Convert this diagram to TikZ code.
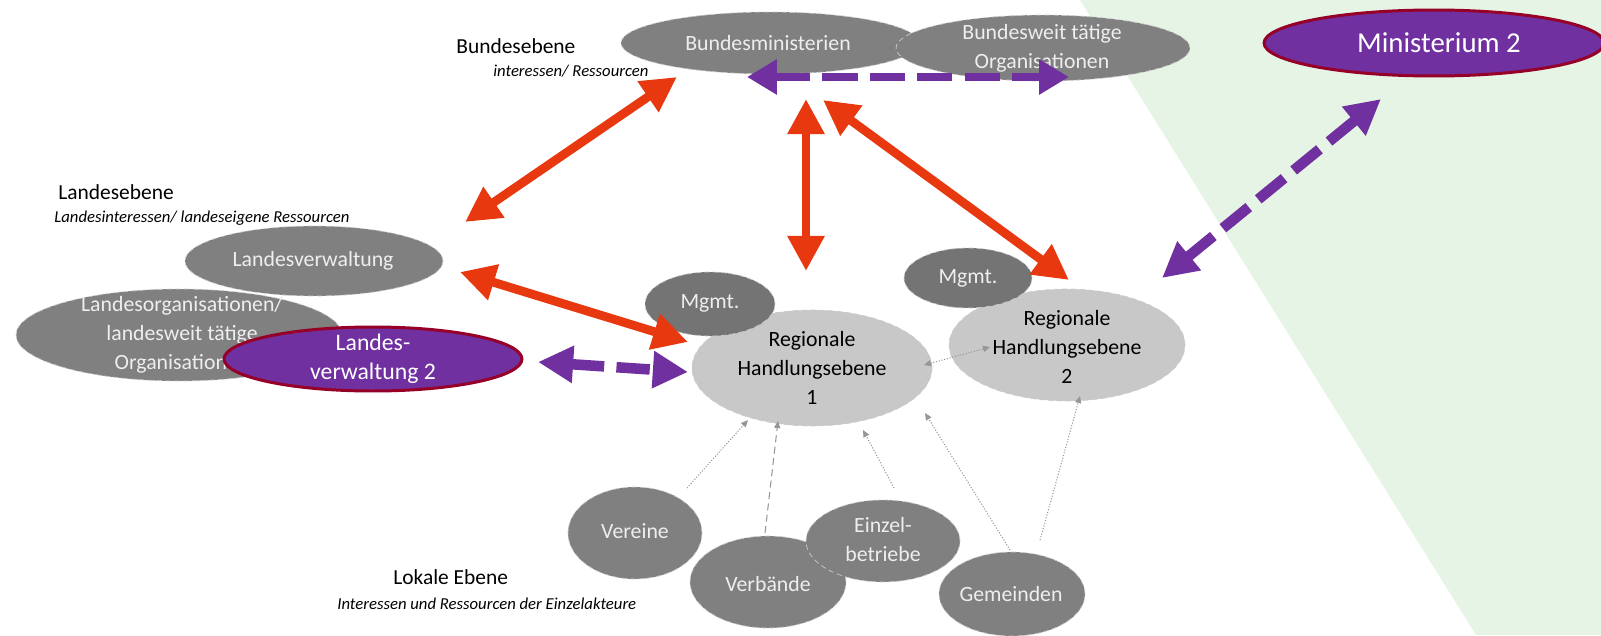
\documentclass[tikz,border=0pt]{standalone}
\usepackage{fontspec}
\setmainfont{Carlito}
\usetikzlibrary{arrows.meta,shapes.geometric}
\definecolor{grayfill}{RGB}{128,128,128}
\definecolor{mgmtfill}{RGB}{116,116,116}
\definecolor{regfill}{RGB}{200,200,200}
\definecolor{purp}{RGB}{112,48,160}
\definecolor{bordred}{RGB}{150,0,40}
\definecolor{redarr}{RGB}{232,56,15}
\definecolor{greenbg}{RGB}{230,244,230}
\definecolor{nodetxt}{RGB}{238,238,238}
\definecolor{thinarr}{RGB}{150,150,150}
\begin{document}
\begin{tikzpicture}[x=0.02cm,y=-0.02cm,
  ell/.style={ellipse, inner sep=0pt, draw=gray!40, densely dashed, line width=0.4pt},
  grayell/.style={ell, fill=grayfill},
  mgmtell/.style={ell, fill=mgmtfill},
  regell/.style={ell, fill=regfill},
  purpell/.style={ellipse, inner sep=0pt, fill=purp, draw=bordred, line width=1.7pt},
  gtxt/.style={font=\fontsize{12.4}{16.5}\selectfont, text=nodetxt, align=center, inner sep=0pt},
  btxt/.style={font=\fontsize{12.4}{16.5}\selectfont, text=black, align=center, inner sep=0pt},
  ptxt/.style={font=\fontsize{13.5}{16.5}\selectfont, text=white, align=center, inner sep=0pt},
  lbl/.style={font=\fontsize{12.2}{14}\selectfont, text=black, anchor=west, inner sep=0pt},
  ilbl/.style={font=\fontsize{9.5}{11}\selectfont\itshape, text=black, anchor=west, inner sep=0pt},
  redarrow/.style={draw=redarr, line width=5pt, {Triangle[length=20pt,width=20pt]}-{Triangle[length=20pt,width=20pt]}},
  purparrow/.style={draw=purp, line width=5pt, dash pattern=on 20pt off 7pt, {Triangle[length=17pt,width=19pt]}-{Triangle[length=17pt,width=19pt]}},
  purparrowb/.style={draw=purp, line width=6pt, dash pattern=on 19pt off 7pt, {Triangle[length=20pt,width=20pt]}-{Triangle[length=20pt,width=20pt]}},
  thinarrow/.style={draw=thinarr, line width=0.6pt, densely dotted, -{Triangle[length=4pt,width=3.5pt]}},
  thinarrowd/.style={draw=thinarr, line width=0.6pt, dash pattern=on 4pt off 2.5pt, -{Triangle[length=4pt,width=3.5pt]}},
  thinarrowb/.style={draw=thinarr, line width=0.6pt, densely dotted, {Triangle[length=4pt,width=3.5pt]}-{Triangle[length=4pt,width=3.5pt]}}
]
\useasboundingbox (0,0) rectangle (1601,635);
% background
\fill[greenbg] (1080,0) -- (1601,0) -- (1601,635) -- (1476,635) -- cycle;

% Bundesebene
\node[grayell, minimum width=5.96cm, minimum height=1.24cm] (bm) at (770,43) {};
\node[gtxt] (bmt) at (768,43) {Bundesministerien};
\node[grayell, minimum width=5.88cm, minimum height=1.32cm] (bw) at (1043,48) {};
\node[gtxt] (bwt) at (1042,48) {Bundesweit tätige\\Organisationen};
\node[purpell, minimum width=6.8cm, minimum height=1.32cm] (min2) at (1434,43) {};
\node[font=\fontsize{16.4}{18}\selectfont, text=white, inner sep=0pt] (min2t) at (1439,43) {Ministerium 2};

% Landesebene
\node[grayell, minimum width=5.16cm, minimum height=1.40cm] (lv) at (314,261) {};
\node[gtxt] (lvt) at (313,261) {Landesverwaltung};
\node[grayell, minimum width=6.52cm, minimum height=1.84cm] (lo) at (179,335) {};
\node[gtxt] (lot) at (182,335) {Landesorganisationen/\\landesweit tätige\\Organisationen};
\node[purpell, minimum width=5.96cm, minimum height=1.28cm] (lv2) at (373,359) {};
\node[ptxt] (lv2t) at (373,359) {Landes-\\verwaltung 2};

% Regionale Ebene
\node[regell, minimum width=4.8cm, minimum height=2.32cm] (r1) at (812,368) {};
\node[btxt] (r1t) at (812,368) {Regionale\\Handlungsebene\\1};
\node[regell, minimum width=4.72cm, minimum height=2.24cm] (r2) at (1067,345) {};
\node[btxt] (r2t) at (1067,347) {Regionale\\Handlungsebene\\2};
\node[mgmtell, minimum width=2.6cm, minimum height=1.28cm] (mg1) at (710,304) {};
\node[gtxt] (mg1t) at (710,303) {Mgmt.};
\node[mgmtell, minimum width=2.56cm, minimum height=1.2cm] (mg2) at (968,278) {};
\node[gtxt] (mg2t) at (968,278) {Mgmt.};

% Lokale Ebene
\node[grayell, minimum width=2.68cm, minimum height=1.84cm] (ver) at (635,533) {};
\node[gtxt] (vert) at (635,531) {Vereine};
\node[grayell, minimum width=3.12cm, minimum height=1.84cm] (vbd) at (768,582) {};
\node[gtxt] (vbdt) at (768,584) {Verbände};
\node[grayell, minimum width=3.08cm, minimum height=1.64cm] (ein) at (883,541) {};
\node[gtxt] (eint) at (883,540) {Einzel-\\betriebe};
\node[grayell, minimum width=2.92cm, minimum height=1.68cm] (gem) at (1012,594) {};
\node[gtxt] (gemt) at (1011,594) {Gemeinden};

% level labels
\node[lbl] (lb1) at (456,46) {Bundesebene};
\node[ilbl] (lb1i) at (493,71) {interessen/ Ressourcen};
\node[lbl] (lb2) at (58,192) {Landesebene};
\node[ilbl] (lb2i) at (54,218) {Landesinteressen/ landeseigene Ressourcen};
\node[lbl] (lb3) at (393,577) {Lokale Ebene};
\node[ilbl] (lb3i) at (337,604) {Interessen und Ressourcen der Einzelakteure};

% arrow end points
\coordinate (ra1a) at (465,222); \coordinate (ra1b) at (677,77);
\coordinate (ra2a) at (460,272); \coordinate (ra2b) at (688,342);
\coordinate (ra3a) at (806,99);  \coordinate (ra3b) at (806,271);
\coordinate (ra4a) at (823,100); \coordinate (ra4b) at (1069,280);
\coordinate (pa1a) at (747,77);  \coordinate (pa1b) at (1069,77);
\coordinate (pa2a) at (538,362); \coordinate (pa2b) at (688,372);
\coordinate (pa3a) at (1162,278); \coordinate (pa3b) at (1381,99);
\coordinate (t1a) at (687,488); \coordinate (t1b) at (748,420);
\coordinate (t2a) at (765,533); \coordinate (t2b) at (778,421);
\coordinate (t3a) at (894,488); \coordinate (t3b) at (863,430);
\coordinate (t4a) at (1010,550); \coordinate (t4b) at (925,413);
\coordinate (t5a) at (1040,540); \coordinate (t5b) at (1080,396);
\coordinate (t6a) at (924,365); \coordinate (t6b) at (990,347);

% thin arrows
\draw[thinarrow] (t1a) -- (t1b);
\draw[thinarrowd] (t2a) -- (t2b);
\draw[thinarrow] (t3a) -- (t3b);
\draw[thinarrow] (t4a) -- (t4b);
\draw[thinarrow] (t5a) -- (t5b);
\draw[thinarrowb] (t6a) -- (t6b);

% red arrows
\draw[redarrow] (ra1a) -- (ra1b);
\draw[redarrow] (ra2a) -- (ra2b);
\draw[redarrow] (ra3a) -- (ra3b);
\draw[redarrow] (ra4a) -- (ra4b);

% purple arrows
\draw[purparrow] (pa1a) -- (pa1b);
\draw[purparrowb] (pa2a) -- (pa2b);
\draw[purparrowb] (pa3a) -- (pa3b);
\end{tikzpicture}
\end{document}
